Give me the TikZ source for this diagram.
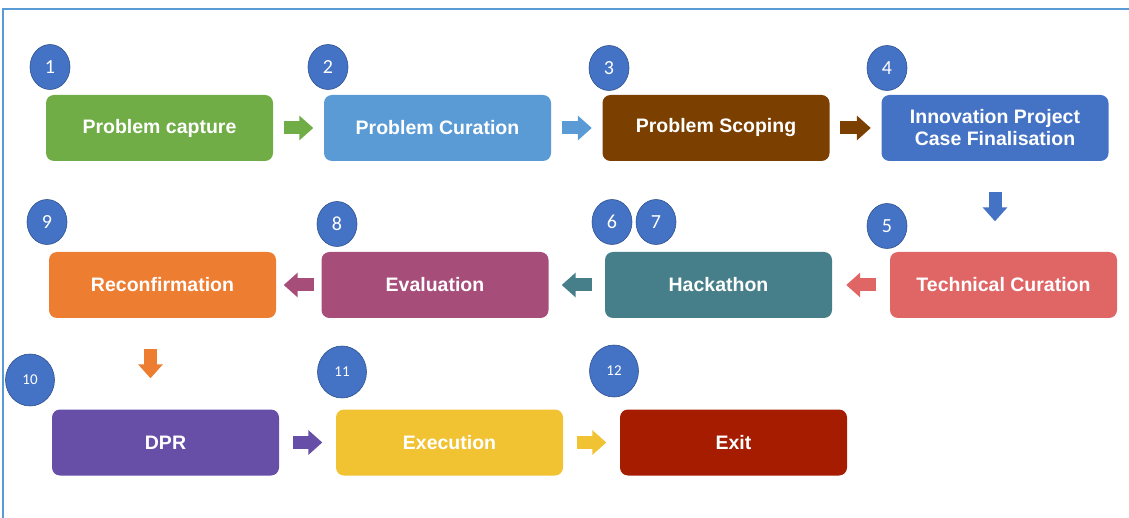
\documentclass[tikz,border=0pt]{standalone}
\usepackage{fontspec}
\setmainfont{Liberation Sans}
\newfontfamily\numfont{Carlito}
\usetikzlibrary{arrows.meta,positioning,shapes.geometric}
\definecolor{cframe}{HTML}{5B9BD5}
\definecolor{cgreen}{HTML}{70AD47}
\definecolor{clblue}{HTML}{5B9BD5}
\definecolor{cbrown}{HTML}{7B3F00}
\definecolor{cblue}{HTML}{4472C4}
\definecolor{csalmon}{HTML}{E06666}
\definecolor{cteal}{HTML}{467F8A}
\definecolor{cplum}{HTML}{A64D79}
\definecolor{corange}{HTML}{ED7D31}
\definecolor{cpurple}{HTML}{674EA7}
\definecolor{cyellow}{HTML}{F1C232}
\definecolor{cdred}{HTML}{A61C00}
\definecolor{cnumline}{HTML}{2F528F}
\tikzset{stage/.style={rounded corners=8pt, minimum width=227pt, minimum height=66pt,
    inner sep=0pt, align=center, text=white, font=\fontsize{19.5}{22}\selectfont\bfseries},
  num/.style={ellipse, fill=cblue, draw=cnumline, line width=0.6pt, text=white,
    minimum width=40pt, minimum height=45pt, inner sep=0pt, font=\numfont\fontsize{20}{20}\selectfont},
  bignum/.style={num, minimum width=49pt, minimum height=52pt, font=\numfont\fontsize{15}{16}\selectfont},
  blockarr/.style={line width=13pt, -{Triangle[width=24pt,length=14pt]}, shorten <=#1, shorten >=#1}}

\begin{document}
\begin{tikzpicture}[x=1pt,y=-1pt]
\useasboundingbox (0,0) rectangle (1129,518);
\draw[cframe, line width=1.5pt] (3,518) -- (3,9) -- (1129,9);

% first row
\node[stage, fill=cgreen]  (pcap) at (159.5,128) {Problem capture};
\node[stage, fill=clblue]  (pcur) at (437.5,128) {Problem Curation};
\node[stage, fill=cbrown]  (pscp) at (716,128)   {Problem Scoping};
\node[stage, fill=cblue]   (ipcf) at (995,128)   {Innovation Project\\Case Finalisation};

% second row
\node[stage, fill=corange] (recf) at (162.5,285) {Reconfirmation};
\node[stage, fill=cplum]   (eval) at (435,285)   {Evaluation};
\node[stage, fill=cteal]   (hack) at (718.5,285) {Hackathon};
\node[stage, fill=csalmon] (tcur) at (1003.5,285) {Technical Curation};

% third row
\node[stage, fill=cpurple] (dpr)  at (165.5,442.5) {DPR};
\node[stage, fill=cyellow] (exec) at (449.5,442.5) {Execution};
\node[stage, fill=cdred]   (exit) at (733.5,442.5) {Exit};

% step numbers
\node[num] (n1) at (50,67)   {1};
\node[num] (n2) at (328,67)  {2};
\node[num] (n3) at (609,68)  {3};
\node[num] (n4) at (887,68)  {4};
\node[num] (n5) at (887,226) {5};
\node[num] (n6) at (612,222) {6};
\node[num] (n7) at (656,222) {7};
\node[num] (n8) at (337,224) {8};
\node[num] (n9) at (47,222)  {9};
\node[bignum] (n10) at (30,380)  {10};
\node[bignum] (n11) at (342,372) {11};
\node[bignum] (n12) at (614,371) {12};

% flow
\draw[blockarr=10.5pt, cgreen]  (pcap.east) -- (pcur.west);
\draw[blockarr=10.5pt, clblue]  (pcur.east) -- (pscp.west);
\draw[blockarr=10.5pt, cbrown]  (pscp.east) -- (ipcf.west);
\draw[blockarr=30.5pt, cblue]   (ipcf.south) -- (ipcf.south |- tcur.north);
\draw[blockarr=14pt, csalmon]   (tcur.west) -- (hack.east);
\draw[blockarr=13pt, cteal]     (hack.west) -- (eval.east);
\draw[blockarr=7.5pt, cplum]    (eval.west) -- (recf.east);
\draw[blockarr=31pt, corange]   ([xshift=-12pt]recf.south) -- ([xshift=-12pt]recf.south |- dpr.north);
\draw[blockarr=13.5pt, cpurple] (dpr.east) -- (exec.west);
\draw[blockarr=13.5pt, cyellow] (exec.east) -- (exit.west);
\end{tikzpicture}
\end{document}
